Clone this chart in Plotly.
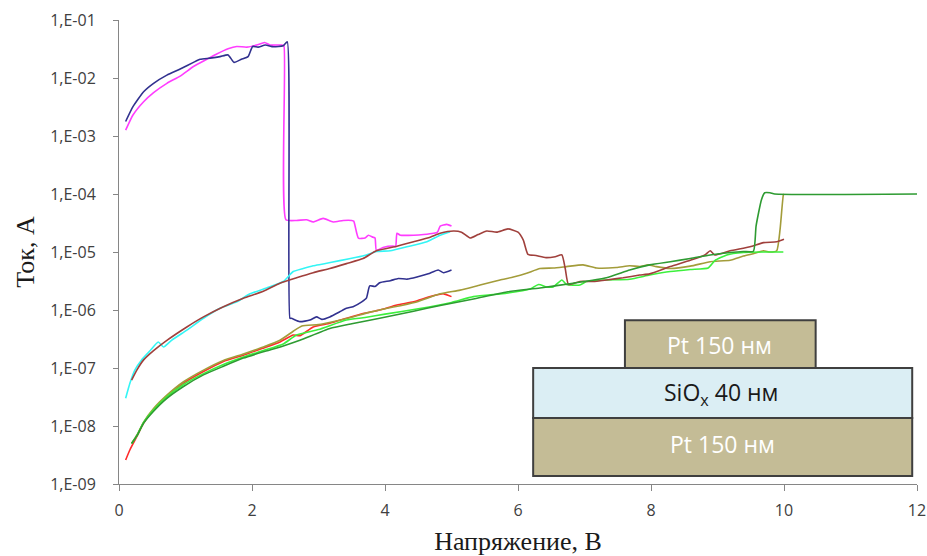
import plotly.graph_objects as go

# ---------------- data (voltage V, current A) ----------------
magenta_v = [0.10, 0.21, 0.37, 0.52, 0.72, 0.92, 1.12, 1.32, 1.47, 1.64, 1.77, 1.92, 2.07, 2.19, 2.27, 2.45, 2.48,
             2.51, 2.67, 2.82, 2.92, 3.07, 3.22, 3.37, 3.50, 3.53,
             3.60, 3.70, 3.75, 3.82, 3.85,
             3.87, 3.97, 4.12, 4.16,
             4.18, 4.23, 4.43, 4.58, 4.73, 4.79,
             4.83, 4.93, 5.00]
magenta_i = [1.26e-3, 2.3e-3, 3.9e-3, 5.6e-3, 8.1e-3, 1.08e-2, 1.58e-2, 2.1e-2, 2.6e-2, 3.2e-2, 3.5e-2, 3.4e-2, 3.7e-2, 4.1e-2, 3.7e-2, 3.7e-2, 3.6e-2,
             3.6e-5, 3.5e-5, 3.6e-5, 3.3e-5, 3.8e-5, 3.3e-5, 3.5e-5, 3.5e-5, 3.4e-5,
             1.74e-5, 1.74e-5, 1.95e-5, 1.8e-5, 1.75e-5,
             1.07e-5, 1.2e-5, 1.27e-5, 1.25e-5,
             2.1e-5, 1.95e-5, 1.95e-5, 2.0e-5, 2.1e-5, 2.2e-5,
             2.8e-5, 3.0e-5, 2.8e-5]

navy_v = [0.10, 0.21, 0.37, 0.52, 0.72, 0.92, 1.12, 1.22, 1.37, 1.52, 1.64, 1.73, 1.84, 1.94, 2.01, 2.09, 2.20, 2.32, 2.47, 2.53,
          2.57, 2.59, 2.72, 2.87, 2.97, 3.05, 3.17, 3.32, 3.42, 3.52, 3.65, 3.72,
          3.77, 3.85, 3.92, 4.08, 4.20, 4.33, 4.48, 4.65, 4.80, 4.88, 5.00]
navy_i = [1.78e-3, 3.2e-3, 5.8e-3, 8.1e-3, 1.12e-2, 1.43e-2, 1.86e-2, 2.1e-2, 2.2e-2, 2.34e-2, 2.5e-2, 1.86e-2, 2.1e-2, 2.33e-2, 3.5e-2, 3.4e-2, 3.7e-2, 3.45e-2, 3.6e-2, 4.2e-2,
          7.2e-7, 7.2e-7, 6.3e-7, 6.7e-7, 7.6e-7, 6.9e-7, 7.6e-7, 9.3e-7, 1.07e-6, 1.14e-6, 1.38e-6, 1.6e-6,
          2.6e-6, 2.55e-6, 2.95e-6, 3.2e-6, 3.5e-6, 3.4e-6, 3.7e-6, 4.2e-6, 4.9e-6, 4.4e-6, 4.9e-6]

cyan_v = [0.10, 0.165, 0.24, 0.34, 0.47, 0.59, 0.67, 0.79, 1.02, 1.27, 1.52, 1.77, 1.97, 2.22, 2.47, 2.62, 2.77,
          2.92, 3.07, 3.32, 3.57, 3.72, 3.87, 4.08, 4.33, 4.63, 4.83, 4.98]
cyan_i = [3.0e-8, 5.5e-8, 9.3e-8, 1.38e-7, 2.0e-7, 2.8e-7, 2.3e-7, 3.0e-7, 4.5e-7, 7.2e-7, 1.07e-6, 1.38e-6, 1.9e-6, 2.4e-6, 3.1e-6, 4.6e-6, 5.2e-6,
          5.8e-6, 6.2e-6, 7.1e-6, 8.1e-6, 8.9e-6, 1.02e-5, 1.05e-5, 1.23e-5, 1.5e-5, 1.95e-5, 2.24e-5]

brown_v = [0.19, 0.27, 0.37, 0.52, 0.72, 1.02, 1.27, 1.57, 1.87, 2.17, 2.42, 2.67, 2.92, 3.17, 3.42, 3.67, 3.87, 4.18,
           4.43, 4.68, 4.83, 5.03, 5.15, 5.28, 5.40, 5.53, 5.68, 5.85, 6.00, 6.08, 6.15, 6.27, 6.42, 6.56, 6.66, 6.71,
           6.76, 6.93, 7.13, 7.33, 7.58, 7.83, 7.98, 8.29, 8.59, 8.81, 8.89, 8.96, 9.19, 9.49, 9.69, 9.89, 10.0]
brown_i = [6.2e-8, 9.3e-8, 1.38e-7, 2.0e-7, 3.0e-7, 5.1e-7, 7.6e-7, 1.14e-6, 1.6e-6, 2.1e-6, 2.9e-6, 3.6e-6, 4.4e-6, 5.2e-6, 6.3e-6, 7.7e-6, 1.05e-5, 1.26e-5,
           1.5e-5, 1.8e-5, 2.1e-5, 2.3e-5, 2.2e-5, 1.74e-5, 2.0e-5, 2.3e-5, 2.2e-5, 2.5e-5, 2.2e-5, 1.6e-5, 9.1e-6, 8.7e-6, 8.0e-6, 8.3e-6, 8.9e-6, 5.2e-6,
           2.75e-6, 3.1e-6, 3.1e-6, 3.3e-6, 3.6e-6, 4.0e-6, 4.2e-6, 5.6e-6, 7.2e-6, 8.9e-6, 1.05e-5, 8.9e-6, 1.05e-5, 1.23e-5, 1.45e-5, 1.5e-5, 1.66e-5]

red_v = [0.10, 0.165, 0.27, 0.37, 0.52, 0.72, 0.97, 1.27, 1.57, 1.87, 2.17, 2.42, 2.62, 2.72, 2.92, 3.17, 3.42, 3.67,
         3.92, 4.18, 4.43, 4.68, 4.88, 5.00]
red_i = [2.6e-9, 3.9e-9, 6.6e-9, 1.12e-8, 1.9e-8, 3.2e-8, 5.5e-8, 8.7e-8, 1.3e-7, 1.66e-7, 2.2e-7, 2.8e-7, 3.7e-7, 3.6e-7, 5.1e-7, 5.9e-7, 7.2e-7, 8.7e-7,
         1.0e-6, 1.22e-6, 1.38e-6, 1.7e-6, 1.9e-6, 1.7e-6]

olive_v = [0.19, 0.27, 0.37, 0.52, 0.72, 0.97, 1.27, 1.57, 1.87, 2.17, 2.42, 2.62, 2.75, 3.0, 3.25, 3.5, 3.75, 4.0,
           4.25, 4.5, 4.83, 5.13, 5.43, 5.73, 5.93, 6.13, 6.33, 6.53, 6.73, 6.98, 7.18, 7.48, 7.68, 7.83, 7.96, 8.08,
           8.29, 8.59, 8.89, 9.19, 9.39, 9.56, 9.69, 9.79, 9.89, 9.94, 9.99, 10.0]
olive_i = [5.0e-9, 7.0e-9, 1.17e-8, 2.0e-8, 3.4e-8, 5.8e-8, 9.2e-8, 1.35e-7, 1.75e-7, 2.3e-7, 3.0e-7, 4.3e-7, 5.3e-7, 5.6e-7, 6.4e-7, 7.5e-7, 9.0e-7, 1.05e-6,
           1.2e-6, 1.4e-6, 1.9e-6, 2.2e-6, 2.7e-6, 3.3e-6, 3.7e-6, 4.3e-6, 5.2e-6, 5.3e-6, 5.6e-6, 6.0e-6, 5.3e-6, 5.4e-6, 5.8e-6, 5.6e-6, 6.0e-6, 5.6e-6,
           5.2e-6, 5.7e-6, 6.8e-6, 7.2e-6, 8.5e-6, 9.5e-6, 1.05e-5, 1.0e-5, 1.05e-5, 2.4e-5, 9.6e-5, 1.0e-4]

lime_v = [0.19, 0.27, 0.37, 0.52, 0.72, 0.97, 1.27, 1.57, 1.87, 2.17, 2.47, 2.67, 3.0, 3.42, 3.7, 4.0, 4.5, 5.0,
          5.33, 5.83, 6.18, 6.31, 6.43, 6.53, 6.66, 6.73, 6.93, 7.03, 7.33, 7.68, 7.98, 8.29, 8.59, 8.86, 8.96, 9.14,
          9.39, 9.69, 9.99]
lime_i = [5.0e-9, 6.8e-9, 1.15e-8, 1.9e-8, 3.2e-8, 5.2e-8, 8.0e-8, 1.15e-7, 1.55e-7, 2.0e-7, 2.6e-7, 3.7e-7, 4.6e-7, 6.7e-7, 7.4e-7, 8.5e-7, 1.05e-6, 1.35e-6,
          1.7e-6, 1.95e-6, 2.3e-6, 2.75e-6, 2.5e-6, 2.5e-6, 3.3e-6, 2.75e-6, 2.7e-6, 3.1e-6, 3.3e-6, 3.4e-6, 4.0e-6, 4.6e-6, 5.0e-6, 5.3e-6, 7.1e-6, 8.9e-6,
          9.8e-6, 1.0e-5, 1.0e-5]

green_v = [0.19, 0.27, 0.37, 0.52, 0.72, 0.97, 1.27, 1.57, 1.87, 2.17, 2.47, 2.72, 3.17, 3.5, 3.92, 4.43, 4.83, 5.33,
           5.83, 6.33, 6.83, 7.33, 7.68, 7.98, 8.29, 8.59, 8.89, 9.19, 9.39, 9.54, 9.58, 9.66, 9.71, 9.79, 9.86, 12.0]
green_i = [5.0e-9, 6.8e-9, 1.12e-8, 1.8e-8, 3.0e-8, 4.8e-8, 7.6e-8, 1.07e-7, 1.48e-7, 1.9e-7, 2.4e-7, 3.0e-7, 4.8e-7, 5.8e-7, 7.2e-7, 9.5e-7, 1.2e-6, 1.55e-6,
           2.05e-6, 2.4e-6, 2.9e-6, 3.6e-6, 4.9e-6, 6.0e-6, 6.8e-6, 7.7e-6, 8.9e-6, 9.8e-6, 1.02e-5, 1.03e-5, 2.8e-5, 7.9e-5, 1.05e-4, 1.05e-4, 1.0e-4, 1.0e-4]

y_tickvals = [1e-9, 1e-8, 1e-7, 1e-6, 1e-5, 1e-4, 1e-3, 1e-2, 1e-1]
y_ticktext = ["1,E-09", "1,E-08", "1,E-07", "1,E-06", "1,E-05", "1,E-04", "1,E-03", "1,E-02", "1,E-01"]
x_tickvals = [0, 2, 4, 6, 8, 10, 12]

layer_labels = ["Pt 150 нм", "SiO<sub>x</sub> 40 нм", "Pt 150 нм"]

series = [
    (magenta_v, magenta_i, "#FF3CFF"),
    (navy_v, navy_i, "#31318F"),
    (cyan_v, cyan_i, "#33F5F5"),
    (red_v, red_i, "#FF2A2A"),
    (olive_v, olive_i, "#A39C3A"),
    (lime_v, lime_i, "#3CF03C"),
    (brown_v, brown_i, "#A0403C"),
    (green_v, green_i, "#2E9B32"),
]

fig = go.Figure()
for v, i, c in series:
    assert len(v) == len(i)
    fig.add_trace(go.Scatter(x=v, y=i, mode="lines",
                             line=dict(color=c, width=1.6, shape="spline", smoothing=0.5),
                             showlegend=False, hoverinfo="skip"))

tick_font = dict(family="Open Sans", size=16, color="#404040")
title_font = dict(family="Liberation Serif", size=26, color="#1a1a1a")

fig.update_xaxes(range=[0, 12], tickvals=x_tickvals, showgrid=False, zeroline=False,
                 showline=True, linecolor="#868686", linewidth=1,
                 ticks="outside", ticklen=6, tickcolor="#868686",
                 tickfont=tick_font, ticklabelstandoff=6, automargin=False,
                 title=dict(text="Напряжение, В", font=title_font, standoff=11))
fig.update_yaxes(type="log", range=[-9, -1], tickvals=y_tickvals, ticktext=y_ticktext,
                 showgrid=False, zeroline=False,
                 showline=True, linecolor="#868686", linewidth=1,
                 ticks="outside", ticklen=5, tickcolor="#868686",
                 tickfont=tick_font, ticklabelstandoff=14, automargin=False,
                 title=dict(text="Ток, А", font=title_font, standoff=8))

# inset: layer structure drawn in paper coordinates
khaki = "#C4BC96"
lightblue = "#DBEEF4"
edge = dict(color="#3F3F3F", width=2)
fig.add_shape(type="rect", xref="paper", yref="paper", x0=0.634, x1=0.873, y0=0.25, y1=0.353,
              fillcolor=khaki, line=edge, layer="above")
fig.add_shape(type="rect", xref="paper", yref="paper", x0=0.519, x1=0.994, y0=0.142, y1=0.25,
              fillcolor=lightblue, line=edge, layer="above")
fig.add_shape(type="rect", xref="paper", yref="paper", x0=0.519, x1=0.994, y0=0.017, y1=0.142,
              fillcolor=khaki, line=edge, layer="above")
inset_font = "Open Sans"
fig.add_annotation(xref="paper", yref="paper", x=0.753, y=0.300, text=layer_labels[0], showarrow=False,
                   xanchor="center", yanchor="middle",
                   font=dict(family=inset_font, size=23, color="white"))
fig.add_annotation(xref="paper", yref="paper", x=0.755, y=0.196, text=layer_labels[1], showarrow=False,
                   xanchor="center", yanchor="middle",
                   font=dict(family=inset_font, size=23, color="#1a1a1a"))
fig.add_annotation(xref="paper", yref="paper", x=0.756, y=0.086, text=layer_labels[2], showarrow=False,
                   xanchor="center", yanchor="middle",
                   font=dict(family=inset_font, size=23, color="white"))

fig.update_layout(width=927, height=556, margin=dict(l=119, r=10, t=20, b=72),
                  paper_bgcolor="white", plot_bgcolor="white")

fig.write_html("out.html", config={"displayModeBar": False},
               post_script="document.body.style.margin='0';document.body.style.overflow='hidden';")
